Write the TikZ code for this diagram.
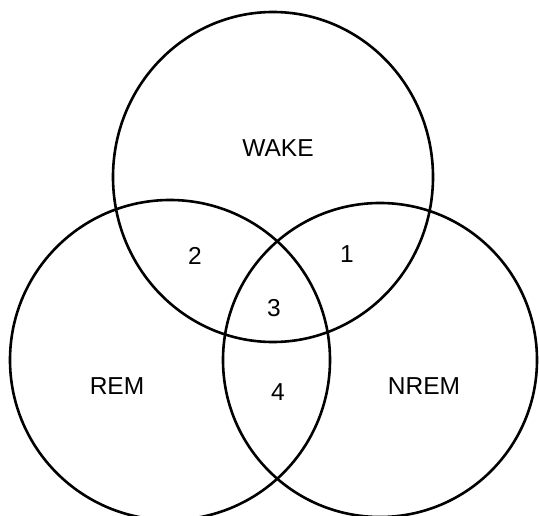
\documentclass[tikz,border=0pt]{standalone}
\usepackage{fontspec}
\setmainfont{Liberation Sans}
\begin{document}
\begin{tikzpicture}[x=1pt,y=-1pt,
  ring/.style={draw=black,line width=2.6pt},
  lbl/.style={font=\fontsize{24.5}{28}\selectfont,inner sep=0pt,anchor=center}]
\useasboundingbox (0,0) rectangle (539,516);
\clip (0,0) rectangle (539,516);
\draw[ring] (273,177) ellipse [x radius=160, y radius=165];
\draw[ring] (170,360) circle [radius=160];
\draw[ring] (380,360) circle [radius=157];
\node[lbl] (wake) at (278,148) {WAKE};
\node[lbl] (rem) at (117,386) {REM};
\node[lbl] (nrem) at (424,386) {NREM};
\node[lbl] (n2) at (195,256) {2};
\node[lbl] (n1) at (347,254) {1};
\node[lbl] (n3) at (274,308) {3};
\node[lbl] (n4) at (278,392) {4};
\end{tikzpicture}
\end{document}
